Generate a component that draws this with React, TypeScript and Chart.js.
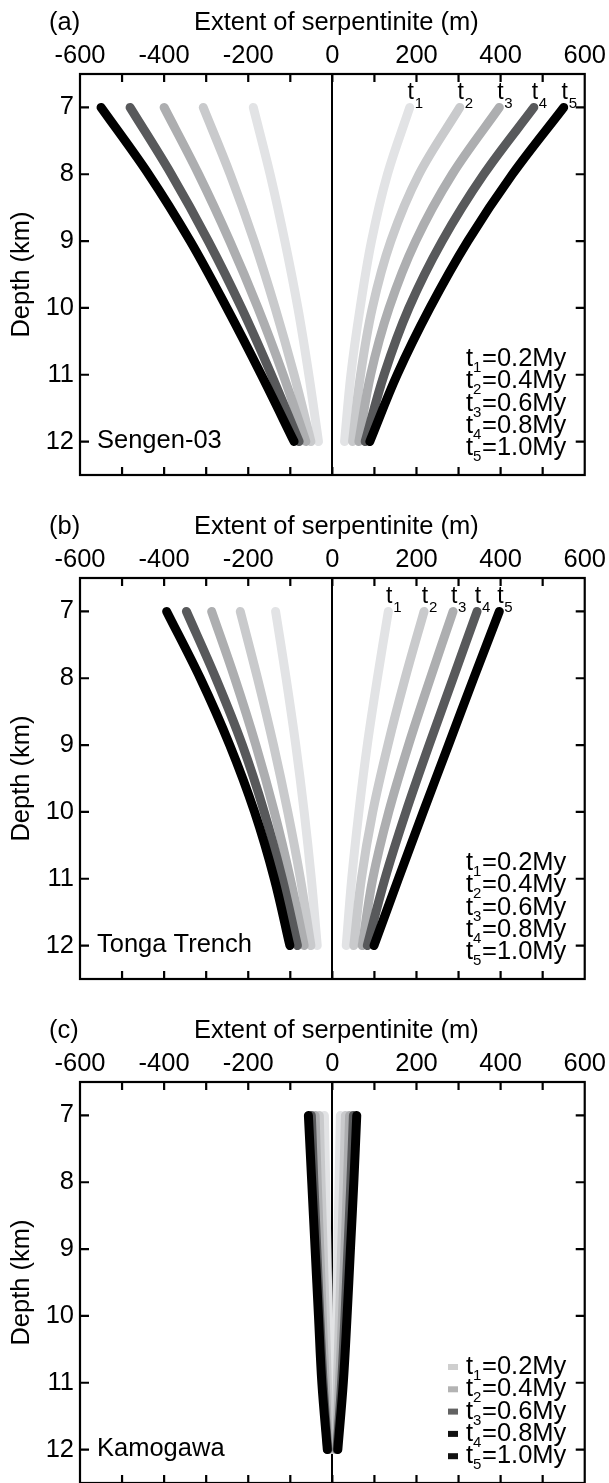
import React, { useEffect, useRef } from "react";
import { Chart, registerables } from "chart.js";

Chart.register(...registerables);

const FONT = "'Liberation Sans', Arial, Helvetica, sans-serif";
const FS = 25.5;

// ---- data ----
const depthKm = [7, 8, 9, 10, 11, 12];
const xTickValues = [-600, -500, -400, -300, -200, -100, 0, 100, 200, 300, 400, 500, 600];
const xLabelValues = [-600, -400, -200, 0, 200, 400, 600];
const yTickValues = [7, 8, 9, 10, 11, 12];
const seriesSubs = ["1", "2", "3", "4", "5"];
const seriesAges = ["=0.2My", "=0.4My", "=0.6My", "=0.8My", "=1.0My"];
const seriesColors = ["#e2e3e5", "#c9cacc", "#adaeb0", "#58595b", "#000000"];
const kamogawaLegendColors = ["#cfcfcf", "#b3b3b3", "#626262", "#111111", "#111111"];

const sengenLeft = [
  [-188, -148, -113, -82, -56, -33],
  [-307, -243, -186, -136, -91, -51],
  [-400, -318, -244, -177, -117, -63],
  [-481, -383, -295, -216, -145, -79],
  [-550, -437, -338, -251, -169, -91],
];
const sengenRight = [
  [184, 131, 93, 66, 44, 29],
  [303, 206, 139, 95, 67, 48],
  [397, 285, 198, 135, 91, 63],
  [479, 360, 261, 182, 123, 78],
  [550, 428, 322, 232, 154, 89],
];
const tongaLeft = [
  [-135, -110, -87, -67, -50, -36],
  [-219, -178, -140, -106, -76, -51],
  [-287, -232, -182, -138, -100, -67],
  [-347, -277, -214, -162, -119, -83],
  [-394, -314, -244, -185, -138, -101],
];
const tongaRight = [
  [133, 107, 83, 63, 46, 33],
  [218, 173, 132, 96, 69, 51],
  [287, 233, 181, 134, 96, 71],
  [344, 287, 230, 175, 125, 83],
  [397, 336, 276, 216, 157, 99],
];
const kamogawaLeft = [
  [-19, -16, -13, -10, -7, -4],
  [-31, -27, -22, -17, -12, -7],
  [-41, -36, -30, -24, -17, -9],
  [-50, -44, -37, -30, -22, -11],
  [-57, -49, -41, -33, -25, -12],
];
const kamogawaRight = [
  [19, 16, 13, 10, 7, 4],
  [31, 27, 22, 17, 12, 7],
  [41, 36, 30, 24, 17, 9],
  [50, 44, 37, 30, 22, 11],
  [58, 51, 43, 35, 26, 13],
];

type PanelDef = {
  letter: string;
  site: string;
  left: number[][];
  right: number[][];
  curveLabels: boolean;
  legendMarkers: string[] | null;
  top: number;
};

const panels: PanelDef[] = [
  { letter: "(a)", site: "Sengen-03", left: sengenLeft, right: sengenRight, curveLabels: true, legendMarkers: null, top: 0 },
  { letter: "(b)", site: "Tonga Trench", left: tongaLeft, right: tongaRight, curveLabels: true, legendMarkers: null, top: 504 },
  { letter: "(c)", site: "Kamogawa", left: kamogawaLeft, right: kamogawaRight, curveLabels: false, legendMarkers: kamogawaLegendColors, top: 1008 },
];

const CANVAS_W = 609;
const CANVAS_H = 504;

function makeDecor(p: PanelDef) {
  return {
    id: "decor",
    afterDraw(chart: any) {
      const { ctx, chartArea: a } = chart;
      const x = chart.scales.x;
      const y = chart.scales.y;
      ctx.save();
      ctx.strokeStyle = "#000";
      ctx.lineWidth = 2.2;
      ctx.strokeRect(a.left, a.top, a.right - a.left, a.bottom - a.top);
      ctx.beginPath();
      for (const v of xTickValues) {
        if (v === xTickValues[0] || v === xTickValues[xTickValues.length - 1]) continue;
        const px = x.getPixelForValue(v);
        ctx.moveTo(px, a.top);
        ctx.lineTo(px, a.top + 8);
        ctx.moveTo(px, a.bottom);
        ctx.lineTo(px, a.bottom - 8);
      }
      for (const v of yTickValues) {
        const py = y.getPixelForValue(v);
        ctx.moveTo(a.left, py);
        ctx.lineTo(a.left + 9, py);
        ctx.moveTo(a.right, py);
        ctx.lineTo(a.right - 9, py);
      }
      ctx.stroke();

      ctx.fillStyle = "#000";
      ctx.textBaseline = "middle";
      ctx.font = `${FS}px ${FONT}`;
      ctx.textAlign = "left";
      ctx.fillText(p.letter, 49, 23);
      ctx.textAlign = "center";
      ctx.fillText("Extent of serpentinite (m)", (a.left + a.right) / 2 + 4, 23);
      ctx.save();
      ctx.translate(22, (a.top + a.bottom) / 2);
      ctx.rotate(-Math.PI / 2);
      ctx.textAlign = "center";
      ctx.fillText("Depth (km)", 0, 0);
      ctx.restore();

      ctx.textAlign = "left";
      ctx.font = `${FS}px ${FONT}`;
      ctx.fillText(p.site, 97, y.getPixelForValue(depthKm[depthKm.length - 1]) - 1);

      if (p.curveLabels) {
        const y0 = y.getPixelForValue(depthKm[0]);
        p.right.forEach((s, i) => {
          const px = x.getPixelForValue(s[0]);
          ctx.font = `23px ${FONT}`;
          ctx.textAlign = "center";
          ctx.fillText("t", px + 1, y0 - 15);
          ctx.font = `15px ${FONT}`;
          ctx.textAlign = "left";
          ctx.fillText(seriesSubs[i], px + 5, y0 - 4);
        });
      }

      seriesSubs.forEach((sub, i) => {
        const ly = 359 + i * 22.3;
        const lx = 466;
        if (p.legendMarkers) {
          ctx.fillStyle = p.legendMarkers[i];
          ctx.fillRect(448, ly - 3, 10, 6);
          ctx.fillStyle = "#000";
        }
        ctx.textAlign = "left";
        ctx.font = `${FS}px ${FONT}`;
        ctx.fillText("t", lx, ly);
        ctx.font = `15px ${FONT}`;
        ctx.fillText(sub, lx + 7, ly + 9);
        ctx.font = `${FS}px ${FONT}`;
        ctx.fillText(seriesAges[i], lx + 16, ly);
      });
      ctx.restore();
    },
  };
}

function buildConfig(p: PanelDef): any {
  const datasets: any[] = [];
  const sides = [p.left, p.right];
  // darkest series first so that it is drawn on top
  for (let i = seriesSubs.length - 1; i >= 0; i--) {
    sides.forEach((side) => {
      datasets.push({
        label: "t" + seriesSubs[i],
        data: depthKm.map((d, k) => ({ x: side[i][k], y: d })),
        borderColor: seriesColors[i],
        backgroundColor: seriesColors[i],
        borderWidth: 9,
        borderCapStyle: "round",
        borderJoinStyle: "round",
        pointRadius: 0,
        tension: 0.35,
        fill: false,
        clip: false,
      });
    });
  }
  return {
    type: "line",
    data: { datasets },
    options: {
      animation: false,
      responsive: false,
      devicePixelRatio: 1,
      layout: { padding: { left: 0, top: 0, right: 23.5, bottom: 29 } },
      plugins: { legend: { display: false }, tooltip: { enabled: false }, title: { display: false } },
      scales: {
        x: {
          type: "linear",
          position: "top",
          min: -600,
          max: 600,
          z: 1,
          afterBuildTicks: (s: any) => {
            s.ticks = xTickValues.map((v) => ({ value: v }));
          },
          afterFit: (s: any) => {
            s.height = 74;
          },
          ticks: {
            autoSkip: false,
            maxRotation: 0,
            padding: 3,
            color: "#000",
            font: { family: FONT, size: FS },
            callback: (v: number) => (xLabelValues.includes(v) ? String(v) : ""),
          },
          grid: {
            drawTicks: false,
            drawOnChartArea: true,
            color: (c: any) => (c.tick && c.tick.value === 0 ? "#000" : "rgba(0,0,0,0)"),
            lineWidth: 2,
          },
          border: { display: false },
        },
        y: {
          type: "linear",
          position: "left",
          min: 6.5,
          max: 12.5,
          reverse: true,
          afterBuildTicks: (s: any) => {
            s.ticks = yTickValues.map((v) => ({ value: v }));
          },
          afterFit: (s: any) => {
            s.width = 80;
          },
          ticks: {
            autoSkip: false,
            padding: 6,
            color: "#000",
            font: { family: FONT, size: FS },
            callback: (v: number) => String(v),
          },
          grid: { display: false, drawTicks: false },
          border: { display: false },
        },
      },
    },
    plugins: [makeDecor(p)],
  };
}

function Panel({ p }: { p: PanelDef }) {
  const ref = useRef<HTMLCanvasElement | null>(null);
  useEffect(() => {
    if (!ref.current) return;
    const chart = new Chart(ref.current, buildConfig(p));
    return () => chart.destroy();
  }, [p]);
  return (
    <canvas
      ref={ref}
      width={CANVAS_W}
      height={CANVAS_H}
      style={{ position: "absolute", left: 0, top: p.top, width: CANVAS_W, height: CANVAS_H }}
    />
  );
}

export default function App() {
  return (
    <div
      style={{
        position: "absolute",
        left: 0,
        top: 0,
        width: 609,
        height: 1483,
        overflow: "hidden",
        background: "#fff",
      }}
    >
      {panels.map((p) => (
        <Panel key={p.letter} p={p} />
      ))}
    </div>
  );
}
